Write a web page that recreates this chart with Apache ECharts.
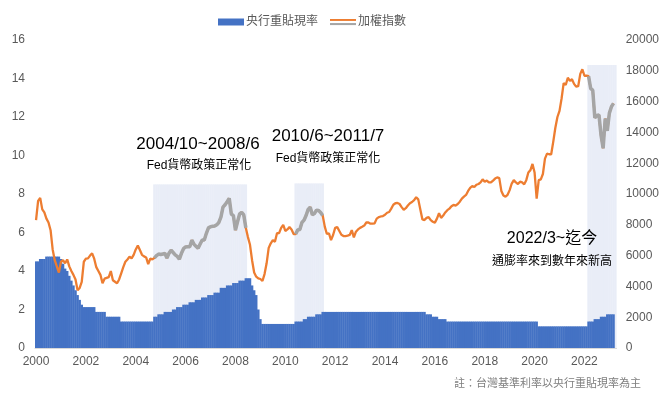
<!DOCTYPE html>
<html>
<head>
<meta charset="utf-8">
<script src="https://cdn.jsdelivr.net/npm/echarts@6/dist/echarts.min.js"></script>
<style>
html,body{margin:0;padding:0;background:#fff;}
#chart{width:662px;height:396px;}
</style>
</head>
<body>
<div id="chart"></div>
<script>
// ---------- DATA ----------
const startYear = 2000;
const monthCount = 280; // 2000/1 ... 2023/4
const categories = [];
for (let i = 0; i < monthCount; i++) {
  categories.push((startYear + Math.floor(i / 12)) + '/' + (i % 12 + 1));
}

// 央行重貼現率 (%), monthly
const rateValues = [
  4.5,4.5,4.625,4.625,4.625,4.75,4.75,4.75,4.75,4.75,4.75,4.75,            // 2000
  4.625,4.375,4.125,4.0,3.75,3.5,3.25,3.0,2.75,2.5,2.25,2.125,           // 2001
  2.125,2.125,2.125,2.125,2.125,1.875,1.875,1.875,1.875,1.875,1.625,1.625, // 2002
  1.625,1.625,1.625,1.625,1.625,1.375,1.375,1.375,1.375,1.375,1.375,1.375, // 2003
  1.375,1.375,1.375,1.375,1.375,1.375,1.375,1.375,1.375,1.625,1.625,1.75,  // 2004
  1.75,1.75,1.875,1.875,1.875,1.875,2.0,2.0,2.125,2.125,2.125,2.25,        // 2005
  2.25,2.25,2.375,2.375,2.375,2.5,2.5,2.5,2.625,2.625,2.625,2.75,          // 2006
  2.75,2.75,2.875,2.875,2.875,3.125,3.125,3.125,3.25,3.25,3.25,3.375,      // 2007
  3.375,3.375,3.5,3.5,3.5,3.625,3.625,3.625,3.25,3.0,2.75,2.0,             // 2008
  1.5,1.25,1.25,1.25,1.25,1.25,1.25,1.25,1.25,1.25,1.25,1.25,              // 2009
  1.25,1.25,1.25,1.25,1.25,1.375,1.375,1.375,1.375,1.5,1.5,1.625,          // 2010
  1.625,1.625,1.625,1.75,1.75,1.75,1.875,1.875,1.875,1.875,1.875,1.875,    // 2011
  1.875,1.875,1.875,1.875,1.875,1.875,1.875,1.875,1.875,1.875,1.875,1.875, // 2012
  1.875,1.875,1.875,1.875,1.875,1.875,1.875,1.875,1.875,1.875,1.875,1.875, // 2013
  1.875,1.875,1.875,1.875,1.875,1.875,1.875,1.875,1.875,1.875,1.875,1.875, // 2014
  1.875,1.875,1.875,1.875,1.875,1.875,1.875,1.875,1.75,1.75,1.75,1.625,    // 2015
  1.625,1.625,1.5,1.5,1.5,1.5,1.375,1.375,1.375,1.375,1.375,1.375,         // 2016
  1.375,1.375,1.375,1.375,1.375,1.375,1.375,1.375,1.375,1.375,1.375,1.375, // 2017
  1.375,1.375,1.375,1.375,1.375,1.375,1.375,1.375,1.375,1.375,1.375,1.375, // 2018
  1.375,1.375,1.375,1.375,1.375,1.375,1.375,1.375,1.375,1.375,1.375,1.375, // 2019
  1.375,1.375,1.125,1.125,1.125,1.125,1.125,1.125,1.125,1.125,1.125,1.125, // 2020
  1.125,1.125,1.125,1.125,1.125,1.125,1.125,1.125,1.125,1.125,1.125,1.125, // 2021
  1.125,1.125,1.375,1.375,1.375,1.5,1.5,1.5,1.625,1.625,1.625,1.75,        // 2022
  1.75,1.75,1.75,null                                                       // 2023
];

// 加權指數, monthly
const taiexValues = [
  8300,9550,9750,9000,8800,8400,8150,7650,6400,5700,5300,4900,        // 2000
  5600,5700,5500,5750,5300,5000,4750,4450,3750,3900,4300,5600,        // 2001
  5800,5820,6000,6150,5800,5250,5000,4750,4200,4500,4550,4600,        // 2002
  5000,4400,4300,4200,4450,4850,5250,5600,5750,5930,5820,6050,        // 2003
  6400,6650,6360,6050,5950,5880,5450,5800,5750,5850,6000,6100,        // 2004
  6070,6100,6150,5850,6150,6350,6200,6050,5950,5770,6150,6450,        // 2005
  6560,6580,6580,7000,6750,6600,6470,6750,7010,7010,7450,7800,        // 2006
  7880,7900,7920,8000,8150,8500,9150,9300,9500,9720,8700,8600,        // 2007
  7650,8200,8700,8800,8640,7800,7200,6700,5700,4900,4630,4520,        // 2008
  4480,4350,4800,5500,6500,6800,7000,6900,7450,7460,7800,8000,        // 2009
  7600,7700,7850,7700,7400,7400,7670,7700,8150,8300,8600,9000,        // 2010
  9150,8650,8730,8950,8930,8800,8600,7880,7400,7450,7000,7340,        // 2011
  7800,7850,7600,7350,7270,7270,7300,7340,7650,7180,7550,7700,        // 2012
  7800,7870,7950,8150,8150,8070,8070,8100,8400,8500,8540,8570,        // 2013
  8650,8780,8830,9050,9300,9400,9420,9350,9150,8980,9080,9250,        // 2014
  9400,9480,9600,9790,9650,9000,8350,8310,8450,8500,8300,8200,        // 2015
  8140,8400,8750,8450,8600,8800,8950,9050,9200,9290,9250,9350,        // 2016
  9500,9700,9830,9940,10200,10400,10520,10450,10600,10650,10750,10950, // 2017
  10800,10870,10750,10750,10870,11000,11080,11030,10200,9900,9830,9950, // 2018
  10250,10680,10900,10750,10650,10800,10750,10630,10900,11400,11550,11950, // 2019
  11400,9700,10900,10950,11300,12300,12620,12580,12580,13400,14300,15000, // 2020
  15400,16200,17200,17080,17550,17350,17450,17150,16970,17000,17800,18100, // 2021
  17680,17680,17650,16850,16750,14950,15100,15130,13800,12970,14900,14100, // 2022
  15250,15670,15890,null                                                   // 2023
];

// 政策正常化 / 通膨 期間 (start, end) and shaded height (left-axis units)
const periodStarts = ['2004/10', '2010/6', '2022/3'];
const periodEnds   = ['2008/6', '2011/7', '2023/4'];
const periodTops   = [8.5, 8.55, 14.7];

const yLeftTicks  = { min: 0, max: 16, interval: 2 };
const yRightTicks = { min: 0, max: 20000, interval: 2000 };

// ---------- DERIVED ----------
const periodIdx = periodStarts.map((s, k) => [categories.indexOf(s), categories.indexOf(periodEnds[k])]);
const periodOf = (i) => periodIdx.findIndex(([a, b]) => i >= a && i <= b);
const greyValues  = taiexValues.map((v, i) => periodOf(i) >= 0 ? v : null);
const shadeValues = categories.map((c, i) => periodOf(i) >= 0 ? periodTops[periodOf(i)] : null);

const FONT = '"Liberation Sans", Arial, "Noto Sans CJK TC", sans-serif';
const lineIconSvg = '<svg xmlns="http://www.w3.org/2000/svg" width="27" height="7">' +
  '<rect x="0" y="0" width="27" height="2.4" fill="#ED7D31"/>' +
  '<rect x="0" y="4.6" width="27" height="2.4" fill="#A5A5A5"/></svg>';

const txt = (x, y, text, size) => ({
  type: 'text', x: x, y: y, z: 100, zlevel: 0,
  style: { text: text, font: size + 'px ' + FONT, fill: '#000', align: 'center', verticalAlign: 'middle' }
});

const chart = echarts.init(document.getElementById('chart'), null, { renderer: 'canvas' });
chart.setOption({
  animation: false,
  backgroundColor: '#fff',
  textStyle: { fontFamily: FONT },
  grid: { left: 35, right: 45, top: 40, bottom: 48, containLabel: false },
  legend: {
    left: 213, top: 11, itemGap: 12, itemWidth: 26, itemHeight: 7,
    textStyle: { color: '#595959', fontSize: 12, fontFamily: FONT, padding: [0, 0, 0, -3] },
    data: [
      { name: '央行重貼現率', icon: 'rect' },
      { name: '加權指數', icon: 'image://data:image/svg+xml;charset=utf-8,' + encodeURIComponent(lineIconSvg) }
    ]
  },
  xAxis: {
    type: 'category',
    data: categories,
    boundaryGap: true,
    axisTick: { show: false },
    axisLine: { lineStyle: { color: '#D9D9D9', width: 1 } },
    axisLabel: {
      color: '#595959', fontSize: 12, margin: 8, fontFamily: FONT,
      interval: (i) => i % 24 === 0,
      formatter: (v) => v.split('/')[0]
    },
    splitLine: { show: false }
  },
  yAxis: [
    {
      type: 'value', min: yLeftTicks.min, max: yLeftTicks.max, interval: yLeftTicks.interval,
      axisLine: { show: false }, axisTick: { show: false }, splitLine: { show: false },
      axisLabel: { color: '#595959', fontSize: 12, margin: 10, fontFamily: FONT }
    },
    {
      type: 'value', min: yRightTicks.min, max: yRightTicks.max, interval: yRightTicks.interval,
      axisLine: { show: false }, axisTick: { show: false }, splitLine: { show: false },
      axisLabel: { color: '#595959', fontSize: 12, margin: 9, fontFamily: FONT,
                   formatter: (v) => String(v) }
    }
  ],
  series: [
    {
      name: '政策期間', type: 'bar', yAxisIndex: 0, data: shadeValues,
      barCategoryGap: '-20%', barGap: '-100%', silent: true,
      itemStyle: { color: '#E9EDF7' },
      z: 1
    },
    {
      name: '央行重貼現率', type: 'bar', yAxisIndex: 0, data: rateValues,
      barCategoryGap: '-20%', barGap: '-100%',
      itemStyle: { color: '#4472C4' },
      z: 2
    },
    {
      name: '加權指數', type: 'line', yAxisIndex: 1, data: taiexValues,
      symbol: 'none', showSymbol: false,
      lineStyle: { color: '#ED7D31', width: 2.3 },
      itemStyle: { color: '#ED7D31' },
      z: 3
    },
    {
      name: '加權指數（政策正常化期間）', type: 'line', yAxisIndex: 1, data: greyValues,
      symbol: 'none', showSymbol: false, connectNulls: false,
      lineStyle: { color: '#A5A5A5', width: 3.5 },
      itemStyle: { color: '#A5A5A5' },
      z: 4
    }
  ],
  graphic: [
    txt(198, 144, '2004/10~2008/6', 17),
    txt(199, 166, 'Fed貨幣政策正常化', 12),
    txt(328, 136, '2010/6~2011/7', 17),
    txt(328, 159, 'Fed貨幣政策正常化', 12),
    txt(552, 239, '2022/3~迄今', 16),
    txt(552, 262, '通膨率來到數年來新高', 12),
    { type: 'text', right: 21, top: 378, z: 100,
      style: { text: '註：台灣基準利率以央行重貼現率為主', font: '11px ' + FONT, fill: '#7F7F7F' } }
  ]
});
</script>
</body>
</html>
